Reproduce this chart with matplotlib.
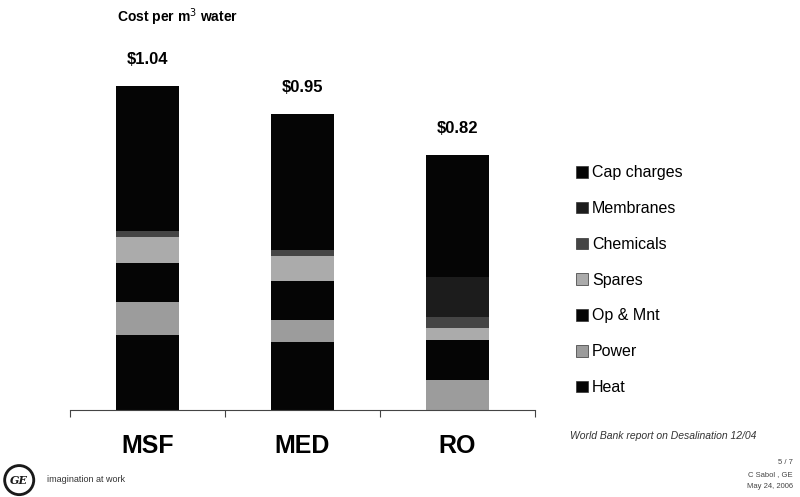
import matplotlib.pyplot as plt
from matplotlib.patches import Patch, Circle

# desalination cost breakdown, $ per m3 (World Bank 12/04)
processes = ["MSF", "MED", "RO"]
heat = [0.24, 0.22, 0.0]
power = [0.106, 0.07, 0.096]
op_mnt = [0.126, 0.123, 0.128]
spares = [0.082, 0.08, 0.04]
chemicals = [0.022, 0.02, 0.035]
membranes = [0.0, 0.0, 0.128]
cap_charges = [0.464, 0.437, 0.393]
totals = ["$1.04", "$0.95", "$0.82"]

layers = [
    ("Heat", heat, "#050505"),
    ("Power", power, "#9c9c9c"),
    ("Op & Mnt", op_mnt, "#050505"),
    ("Spares", spares, "#ababab"),
    ("Chemicals", chemicals, "#454545"),
    ("Membranes", membranes, "#1c1c1c"),
    ("Cap charges", cap_charges, "#050505"),
]

plt.rcParams['font.family'] = ['Liberation Sans', 'DejaVu Sans']

fig = plt.figure(figsize=(8, 4.97), dpi=100)
ax = fig.add_axes([0.0875, 0.175, 0.58125, 0.752])

x = list(range(len(processes)))
bottom = [0.0] * len(processes)
handles = []
for name, vals, col in layers:
    ax.bar(x, vals, bottom=bottom, width=0.41, color=col, edgecolor='none')
    bottom = [b + v for b, v in zip(bottom, vals)]
    handles.append(Patch(facecolor=col, edgecolor='#333333', linewidth=0.5, label=name))

# total labels above the stacks
for xi, top, lab in zip(x, bottom, totals):
    ax.annotate(lab, (xi, top), xytext=(0, 19), textcoords='offset points',
                ha='center', va='center', fontsize=12, fontweight='bold')

ax.set_xlim(-0.5, 2.5)
ax.set_ylim(0, 1.2)
for s in ['top', 'right', 'left']:
    ax.spines[s].set_visible(False)
ax.spines['bottom'].set_color('#444444')
ax.spines['bottom'].set_linewidth(0.8)
ax.set_yticks([])
ax.set_xticks(x)
ax.set_xticklabels(processes, fontsize=18, fontweight='bold')
ax.tick_params(axis='x', which='major', length=0, pad=17)
ax.set_xticks([-0.5, 0.5, 1.5, 2.5], minor=True)
ax.tick_params(axis='x', which='minor', length=5, width=0.8, color='#444444', direction='out')

leg = fig.legend(handles=handles[::-1], loc='upper left', bbox_to_anchor=(0.712, 0.68),
                 frameon=False, fontsize=11.5, handlelength=0.75, handleheight=0.75,
                 handletextpad=0.25, labelspacing=1.3, borderaxespad=0)

fig.text(0.146, 0.966, "Cost per m$^3$ water", fontsize=10, fontweight='bold',
         va='center', ha='left')

fig.text(0.713, 0.123, "World Bank report on Desalination 12/04", fontsize=7.5,
         style='italic', color='#333333', va='center')
fig.text(0.991, 0.069, "5 / 7", fontsize=5.5, color='#444444', ha='right', va='center')
fig.text(0.991, 0.046, "C Sabol , GE", fontsize=5.5, color='#444444', ha='right', va='center')
fig.text(0.991, 0.022, "May 24, 2006", fontsize=5.5, color='#444444', ha='right', va='center')

# GE logo, roughly
logo = fig.add_axes([0.003, 0.0, 0.042, 0.068])
logo.set_xlim(-1, 1)
logo.set_ylim(-1, 1)
logo.set_aspect('equal')
logo.axis('off')
logo.add_patch(Circle((0, 0), 0.95, facecolor='#1a1a1a', edgecolor='none'))
logo.add_patch(Circle((0, 0), 0.78, facecolor='white', edgecolor='none'))
logo.text(0, -0.05, "GE", fontsize=8, style='italic', fontweight='bold',
          ha='center', va='center', color='#1a1a1a', family='DejaVu Serif')
fig.text(0.059, 0.035, "imagination at work", fontsize=6.5, color='#333333', va='center')

fig.savefig("out.png", dpi=100)
